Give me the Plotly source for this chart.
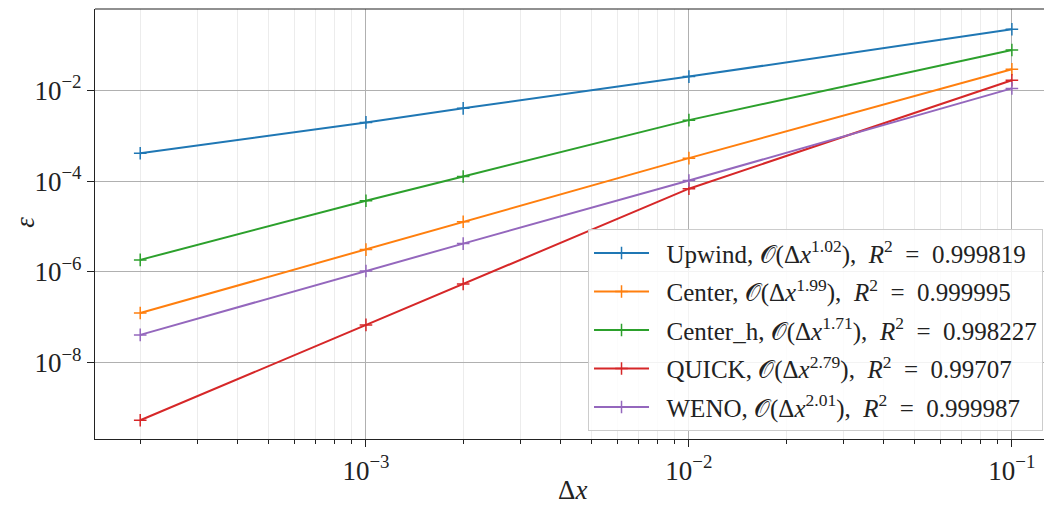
import plotly.graph_objects as go

dx = [2e-4, 1e-3, 2e-3, 1e-2, 1e-1]

upwind = [4.1e-4, 1.96e-3, 4.0e-3, 2.0e-2, 0.22]
center = [1.24e-7, 3.1e-6, 1.27e-5, 3.2e-4, 2.9e-2]
center_h = [1.84e-6, 3.7e-5, 1.26e-4, 2.2e-3, 7.7e-2]
quick = [5.4e-10, 6.8e-8, 5.4e-7, 6.8e-5, 1.66e-2]
weno = [4.1e-8, 1.05e-6, 4.2e-6, 1.03e-4, 1.1e-2]

names = ["Upwind", "Center", "Center_h", "QUICK", "WENO"]
orders = ["1.02", "1.99", "1.71", "2.79", "2.01"]
r2 = ["0.999819", "0.999995", "0.998227", "0.99707", "0.999987"]
series = [upwind, center, center_h, quick, weno]
colors = ["#1f77b4", "#ff7f0e", "#2ca02c", "#d62728", "#9467bd"]

xtickvals = [1e-3, 1e-2, 1e-1]
xticktext = ["10<sup>−3</sup>", "10<sup>−2</sup>", "10<sup>−1</sup>"]
ytickvals = [1e-2, 1e-4, 1e-6, 1e-8]
yticktext = ["10<sup>−2</sup>", "10<sup>−4</sup>", "10<sup>−6</sup>", "10<sup>−8</sup>"]

FONT = "Liberation Serif, DejaVu Serif, serif"
TXT = "#222222"

fig = go.Figure()
for name, o, r, ys, c in zip(names, orders, r2, series, colors):
    label = (f"\u00a0\u00a0{name}, 𝒪(Δ<i>x</i><sup>{o}</sup>),  "
             f"<i>R</i><sup>2</sup>  =  {r}")
    fig.add_trace(go.Scatter(
        x=dx, y=ys, mode="lines+markers", name=label,
        legendgroup=name,
        line=dict(color=c, width=2),
        marker=dict(symbol="cross-thin", size=9,
                    line=dict(width=1.5, color=c), color=c),
    ))

fig.update_layout(
    width=1052, height=507,
    margin=dict(l=87, r=0, t=1, b=76, autoexpand=False),
    paper_bgcolor="white", plot_bgcolor="white",
    font=dict(family=FONT, size=25, color=TXT),
    showlegend=True,
    legend=dict(
        x=0.9824, y=0.018, xanchor="right", yanchor="bottom",
        bgcolor="rgba(255,255,255,0.85)", bordercolor="#cccccc", borderwidth=1,
        font=dict(family=FONT, size=25, color=TXT),
        tracegroupgap=3, itemwidth=55,
    ),
    xaxis=dict(
        type="log", range=[-3.839, -0.851], automargin=False,
        tickvals=xtickvals, ticktext=xticktext,
        ticks="outside", ticklen=7, tickwidth=1, tickcolor=TXT,
        showgrid=True, gridcolor="#b0b0b0", gridwidth=1,
        showline=True, linecolor=TXT, linewidth=1.2,
        mirror=False, zeroline=False,
        tickfont=dict(family=FONT, size=27, color=TXT),
        minor=dict(ticks="outside", ticklen=4, tickcolor=TXT,
                   showgrid=True, gridcolor="#ececec", gridwidth=1,
                   dtick="D1"),
    ),
    yaxis=dict(
        type="log", range=[-9.68, -0.21], automargin=False,
        tickvals=ytickvals, ticktext=yticktext,
        ticks="outside", ticklen=7, tickwidth=1, tickcolor=TXT,
        showgrid=True, gridcolor="#b0b0b0", gridwidth=1,
        showline=True, linecolor=TXT, linewidth=1.2,
        zeroline=False,
        tickfont=dict(family=FONT, size=27, color=TXT),
    ),
    annotations=[
        dict(text="Δ<i>x</i>", xref="paper", yref="paper", x=0.4953, y=-0.119,
             xanchor="center", yanchor="middle", showarrow=False,
             font=dict(family=FONT, size=27, color=TXT)),
        dict(text="<i>ε</i>", xref="paper", yref="paper", x=-0.072, y=0.504,
             xanchor="center", yanchor="middle", showarrow=False, textangle=-90,
             font=dict(family=FONT, size=27, color=TXT)),
    ],
)

# top spine
fig.add_shape(type="line", xref="paper", yref="paper", x0=0, x1=1, y0=1, y1=1,
              line=dict(color=TXT, width=1.2))

fig.write_html("out.html")
